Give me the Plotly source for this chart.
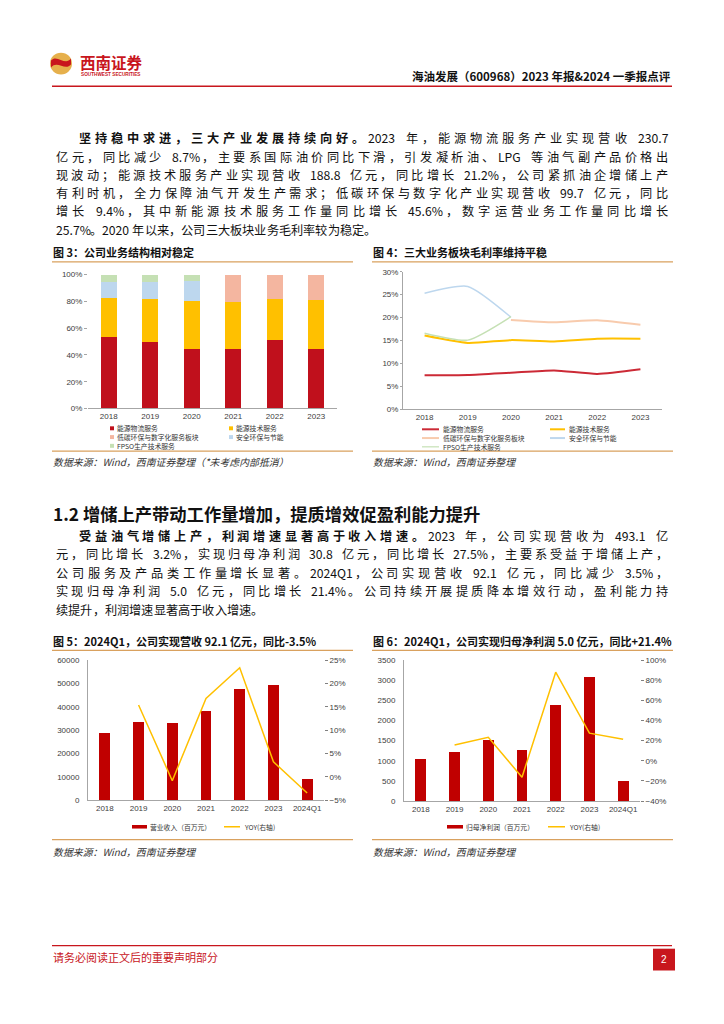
import plotly.graph_objects as go

W, H = 724, 1024
# target-picture pixels -> figure pixels (page body offsets the figure by 8px)
OFF = 8
def fx(p): return p - OFF
def fy(p): return p - OFF
def X(p): return fx(p) / W
def Y(p): return 1 - fy(p) / H

# ---------------- data ----------------
years6 = ["2018", "2019", "2020", "2021", "2022", "2023"]
years7 = ["2018", "2019", "2020", "2021", "2022", "2023", "2024Q1"]

seg_names = ["能源物流服务", "能源技术服务", "低碳环保与数字化服务板块", "安全环保与节能", "FPSO生产技术服务"]

# Fig 3: business structure (share of revenue)
share_logistics = [0.536, 0.499, 0.447, 0.447, 0.509, 0.447]
share_tech = [0.289, 0.318, 0.355, 0.346, 0.308, 0.363]
share_lowcarbon = [None, None, None, 0.207, 0.183, 0.190]
share_safety = [0.118, 0.126, 0.151, None, None, None]
share_fpso = [0.057, 0.057, 0.047, None, None, None]

# Fig 4: gross margin by segment
gm_logistics = [0.0747, 0.075, 0.080, 0.085, 0.0775, 0.0876]
gm_tech = [0.161, 0.145, 0.151, 0.148, 0.154, 0.154]
gm_lowcarbon = [None, None, 0.195, 0.190, 0.1945, 0.1845]
gm_safety = [0.253, 0.268, 0.201, None, None, None]
gm_fpso = [0.166, 0.151, 0.202, None, None, None]

# Fig 5: revenue (million yuan) and YoY
revenue = [28650, 33300, 32900, 38400, 47700, 49310, 9210]
revenue_yoy = [None, 0.154, -0.0085, 0.168, 0.234, 0.032, -0.035]

# Fig 6: net profit attributable (million yuan) and YoY
profit = [1046, 1211, 1524, 1277, 2397, 3080, 500]
profit_yoy = [None, 0.157, 0.233, -0.163, 0.881, 0.275, 0.214]

# ---------------- styles ----------------
RED = "#C00000"
RED3 = "#C0101C"
YEL = "#FFC000"
PINK = "#F4B6A0"
PEACH = "#F8CBAD"
BLUE = "#BDD7EE"
GREEN = "#C5E0B4"
GOLD = "#D9A15E"
GREY = "#A6A6A6"
CJK = "Noto Sans CJK SC"
tickfont = dict(family="Arial, Liberation Sans, sans-serif", size=8, color="#404040")

fig = go.Figure()

# Fig 3 bars
for vals, col, name in [(share_logistics, RED3, seg_names[0]), (share_tech, YEL, seg_names[1]),
                        (share_lowcarbon, PINK, seg_names[2]), (share_safety, BLUE, seg_names[3]),
                        (share_fpso, GREEN, seg_names[4])]:
    fig.add_trace(go.Bar(x=years6, y=vals, name=name, marker=dict(color=col, line=dict(width=0)),
                         width=0.39, xaxis="x", yaxis="y", showlegend=False))

# Fig 4 lines
for vals, col, wd, name in [(gm_logistics, "#CC2A36", 2, seg_names[0]), (gm_tech, YEL, 2, seg_names[1]),
                            (gm_lowcarbon, PEACH, 2, seg_names[2]), (gm_safety, BLUE, 1.5, seg_names[3]),
                            (gm_fpso, GREEN, 1.5, seg_names[4])]:
    fig.add_trace(go.Scatter(x=years6, y=vals, name=name, mode="lines",
                             line=dict(color=col, width=wd, shape="spline", smoothing=0.6),
                             xaxis="x2", yaxis="y2", showlegend=False))

# Fig 5
fig.add_trace(go.Bar(x=years7, y=revenue, name="营业收入（百万元）", marker=dict(color=RED, line=dict(width=0)),
                     width=0.32, xaxis="x3", yaxis="y3", showlegend=False))
fig.add_trace(go.Scatter(x=years7, y=revenue_yoy, name="YOY(右轴)", mode="lines",
                         line=dict(color=YEL, width=1.5), xaxis="x3", yaxis="y4", showlegend=False))

# Fig 6
fig.add_trace(go.Bar(x=years7, y=profit, name="归母净利润（百万元）", marker=dict(color=RED, line=dict(width=0)),
                     width=0.32, xaxis="x4", yaxis="y5", showlegend=False))
fig.add_trace(go.Scatter(x=years7, y=profit_yoy, name="YOY(右轴)", mode="lines",
                         line=dict(color=YEL, width=1.5), xaxis="x4", yaxis="y6", showlegend=False))

base_x = dict(type="category", showline=True, linecolor=GREY, linewidth=1, ticks="", tickfont=tickfont,
              showgrid=False, zeroline=False, fixedrange=True)
base_y = dict(showgrid=False, zeroline=False, tickfont=tickfont, fixedrange=True)

fig.update_layout(
    width=W, height=H, margin=dict(l=0, r=0, t=0, b=0),
    paper_bgcolor="white", plot_bgcolor="white", barmode="stack",
    xaxis=dict(base_x, domain=[X(88), X(337)], anchor="y", range=[-0.5, 5.5]),
    yaxis=dict(base_y, domain=[Y(408), Y(273)], anchor="x", range=[0, 1],
               tickvals=[0, 0.2, 0.4, 0.6, 0.8, 1.0], tickformat=".0%",
               ticks="outside", ticklen=3, tickcolor=GREY, showline=False),
    xaxis2=dict(base_x, domain=[X(403), X(662)], anchor="y2", range=[-0.5, 5.5]),
    yaxis2=dict(base_y, domain=[Y(409), Y(270)], anchor="x2", range=[0, 0.30],
                tickvals=[0, 0.05, 0.10, 0.15, 0.20, 0.25, 0.30], tickformat=".0%",
                ticks="outside", ticklen=2, tickcolor=GREY, showline=True, linecolor=GREY),
    xaxis3=dict(base_x, domain=[X(88), X(324)], anchor="y3", range=[-0.5, 6.5]),
    yaxis3=dict(base_y, domain=[Y(803), Y(662)], anchor="x3", range=[0, 60000], dtick=10000,
                tickformat="d", showline=True, linecolor=GREY, ticks="", ticklabelstandoff=6),
    yaxis4=dict(base_y, overlaying="y3", side="right", anchor="x3", range=[-0.05, 0.25],
                tickvals=[-0.05, 0, 0.05, 0.10, 0.15, 0.20, 0.25], tickformat=".0%",
                ticks="outside", ticklen=3, tickcolor="#808080", showline=False),
    xaxis4=dict(base_x, domain=[X(404), X(640)], anchor="y5", range=[-0.5, 6.5]),
    yaxis5=dict(base_y, domain=[Y(804), Y(662)], anchor="x4", range=[0, 3500], dtick=500,
                tickformat="d", showline=True, linecolor=GREY, ticks="", ticklabelstandoff=6),
    yaxis6=dict(base_y, overlaying="y5", side="right", anchor="x4", range=[-0.40, 1.00],
                tickvals=[-0.4, -0.2, 0, 0.2, 0.4, 0.6, 0.8, 1.0], tickformat=".0%",
                ticks="outside", ticklen=3, tickcolor="#808080", showline=False),
)

annotations = []
shapes = []

def text_fig(fpx, py, s, size=12, color="#1a1a1a", bold=False, xanchor="left", family=CJK, italic=False):
    t = f"<b>{s}</b>" if bold else s
    if italic:
        t = f"<i>{t}</i>"
    annotations.append(dict(x=fpx / W, y=Y(py), xref="paper", yref="paper", text=t, showarrow=False,
                            xanchor=xanchor, yanchor="middle", align="left", borderpad=0,
                            font=dict(family=family, size=size, color=color)))

def text(px, py, s, **kw):
    text_fig(fx(px), py, s, **kw)

def hline(x0, x1, py, color, width=1):
    shapes.append(dict(type="line", xref="paper", yref="paper", x0=X(x0), x1=X(x1), y0=Y(py), y1=Y(py),
                       line=dict(color=color, width=width)))

def rect(x0, y0, x1, y1, color):
    shapes.append(dict(type="rect", xref="paper", yref="paper", x0=X(x0), x1=X(x1), y0=Y(y1), y1=Y(y0),
                       fillcolor=color, line=dict(width=0)))

# --------- justified body text ---------
FULL = "，。；、：（）“”！？"
def cw(c):
    if "\u4e00" <= c <= "\u9fff" or c in FULL:
        return 1.0
    if c.isdigit():
        return 0.55
    if c == ".":
        return 0.27
    if c == "%":
        return 0.86
    if c == " ":
        return 0.28
    if c == "&":
        return 0.68
    if c.isupper():
        return 0.64
    return 0.5

def tokenize(segments):
    toks = []
    for s, b in segments:
        buf = ""
        for c in s:
            if cw(c) == 1.0 or c == " ":
                if buf:
                    toks.append((buf, sum(cw(k) for k in buf), b)); buf = ""
                toks.append((c, cw(c), b))
            else:
                buf += c
        if buf:
            toks.append((buf, sum(cw(k) for k in buf), b))
    return toks

BODY = 12.2
def para_line(segments, x0, py, x1=None):
    toks = tokenize(segments)
    nat = sum(t[1] for t in toks) * BODY
    f0 = fx(x0)
    gap = 0.0
    if x1 is not None and len(toks) > 1:
        gap = (fx(x1) - f0 - nat) / (len(toks) - 1)
    x = f0
    for s, w, b in toks:
        if s != " ":
            text_fig(x, py, s, size=BODY, bold=b, color="#111111")
        x += w * BODY + gap

R = 667
para_line([("坚持稳中求进，三大产业发展持续向好。", True), ("2023 年，能源物流服务产业实现营收 230.7", False)], 78, 135, R)
para_line([("亿元，同比减少 8.7%，主要系国际油价同比下滑，引发凝析油、LPG 等油气副产品价格出", False)], 55, 154, R)
para_line([("现波动；能源技术服务产业实现营收 188.8 亿元，同比增长 21.2%，公司紧抓油企增储上产", False)], 55, 172, R)
para_line([("有利时机，全力保障油气开发生产需求；低碳环保与数字化产业实现营收 99.7 亿元，同比", False)], 55, 191, R)
para_line([("增长 9.4%，其中新能源技术服务工作量同比增长 45.6%，数字运营业务工作量同比增长", False)], 55, 209, R)
para_line([("25.7%。2020 年以来，公司三大板块业务毛利率较为稳定。", False)], 55, 228)

text(52, 514, "1.2 增储上产带动工作量增加，提质增效促盈利能力提升", size=17.3, bold=True, color="#111111")

para_line([("受益油气增储上产，利润增速显著高于收入增速。", True), ("2023 年，公司实现营收为 493.1 亿", False)], 78, 537, R)
para_line([("元，同比增长 3.2%，实现归母净利润 30.8 亿元，同比增长 27.5%，主要系受益于增储上产，", False)], 55, 555, R)
para_line([("公司服务及产品类工作量增长显著。2024Q1，公司实现营收 92.1 亿元，同比减少 3.5%，", False)], 55, 574, R)
para_line([("实现归母净利润 5.0 亿元，同比增长 21.4%。公司持续开展提质降本增效行动，盈利能力持", False)], 55, 592, R)
para_line([("续提升，利润增速显著高于收入增速。", False)], 55, 611)

# --------- header ---------
shapes.append(dict(type="circle", xref="paper", yref="paper", x0=X(50), x1=X(72), y0=Y(71), y1=Y(49),
                   fillcolor="#E6B04C", line=dict(width=0)))
def P(px, py): return f"{X(px):.5f},{Y(py):.5f}"
shapes.append(dict(type="path", xref="paper", yref="paper",
                   path=f"M{P(51,57)} C{P(57,50)} {P(65,63)} {P(71,55)} L{P(71,61)} C{P(65,68)} {P(57,56)} {P(51,64)} Z",
                   fillcolor="#C8161D", line=dict(width=0)))
text(79, 58, "西南证券", size=15.5, bold=True, color="#C8161D")
text(80, 71, "SOUTHWEST SECURITIES", size=4.7, bold=True, color="#C8161D",
     family="Arial, Liberation Sans, sans-serif")
text(672, 73, "海油发展（600968）2023 年报&2024 一季报点评", size=11.5, bold=True,
     color="#111111", xanchor="right")
hline(52, 672, 83, "#C8161D", 1.5)

# --------- footer ---------
hline(52, 672, 950, "#C8161D", 1.2)
text(52, 961, "请务必阅读正文后的重要声明部分", size=11, color="#C8161D")
rect(653, 953, 675, 975, "#C8161D")
text(664, 964, "2", size=10, color="white", xanchor="center", family="Arial, Liberation Sans, sans-serif")

# --------- chart frames / titles ---------
for (x0, x1, ty, rt, rb, sy, title, src) in [
    (52, 353, 250, 260, 451, 462, "图 3：公司业务结构相对稳定", "数据来源：Wind，西南证券整理（*未考虑内部抵消）"),
    (372, 673, 250, 260, 451, 462, "图 4：三大业务板块毛利率维持平稳", "数据来源：Wind，西南证券整理"),
    (52, 353, 643, 652, 843, 855, "图 5：2024Q1，公司实现营收 92.1 亿元，同比-3.5%", "数据来源：Wind，西南证券整理"),
    (372, 673, 643, 652, 843, 855, "图 6：2024Q1，公司实现归母净利润 5.0 亿元，同比+21.4%", "数据来源：Wind，西南证券整理"),
]:
    text(x0, ty, title, size=11.0, bold=True, color="#111111")
    hline(x0, x1, rt, GOLD, 1.3)
    hline(x0, x1, rb, GOLD, 1.3)
    text(x0, sy, src, size=9.9, color="#333333", italic=True)

# --------- manual legends (each column is one multi-line text) ---------
LEG = 6.8
LS = LEG * 1.3   # plotly line spacing
def leg_column(px_text, py_first, labels):
    n = len(labels)
    mid = py_first + (n - 1) * LS / 2
    text(px_text, mid, "<br>".join(labels), size=LEG, color="#333333")
    return [py_first + i * LS for i in range(n)]

# Fig 3 legend (squares)
col1 = leg_column(116, 428, [seg_names[0], seg_names[2], seg_names[4]])
col2 = leg_column(235, 428, [seg_names[1], seg_names[3]])
for py, c in zip(col1, [RED3, PINK, GREEN]):
    rect(110, py - 2, 114, py + 2, c)
for py, c in zip(col2, [YEL, BLUE]):
    rect(229, py - 2, 233, py + 2, c)

# Fig 4 legend (lines)
col1 = leg_column(442, 429, [seg_names[0], seg_names[2], seg_names[4]])
col2 = leg_column(568, 429, [seg_names[1], seg_names[3]])
for py, c, w in zip(col1, ["#CC2A36", PEACH, GREEN], [2, 2, 1.2]):
    hline(422, 439, py, c, w)
for py, c in zip(col2, [YEL, BLUE]):
    hline(550, 565, py, c, 2)

# Fig 5 / Fig 6 legends
rect(132, 828.2, 147, 831.8, RED)
text(149, 830, "营业收入（百万元）", size=LEG, color="#333333")
hline(224, 240, 830, YEL, 1.5)
text(243, 830, "YOY(右轴)", size=LEG, color="#333333")
rect(447, 828.2, 463, 831.8, RED)
text(465, 830, "归母净利润（百万元）", size=LEG, color="#333333")
hline(548, 565, 830, YEL, 1.5)
text(568, 830, "YOY(右轴)", size=LEG, color="#333333")

fig.update_layout(annotations=annotations, shapes=shapes)
fig.write_html("out.html")
